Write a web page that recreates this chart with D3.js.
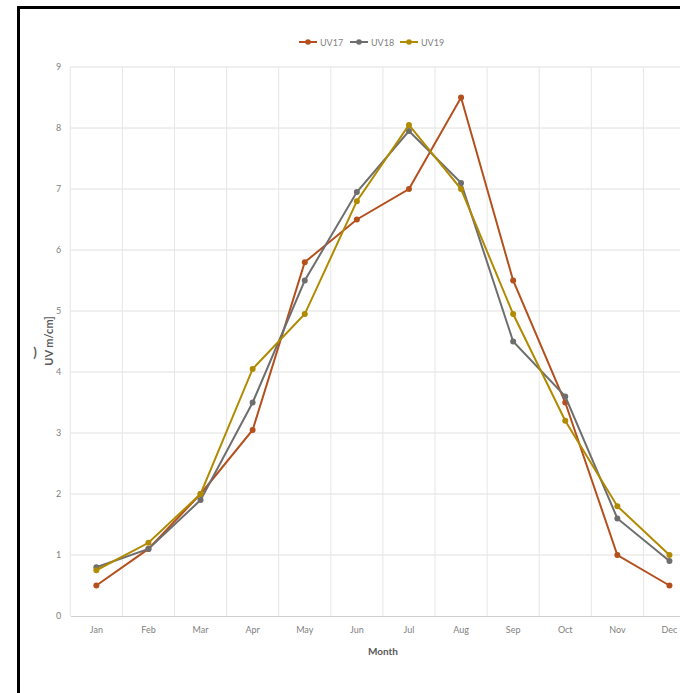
<!DOCTYPE html>
<html>
<head>
<meta charset="utf-8">
<script src="https://cdn.jsdelivr.net/npm/d3@7"></script>
<style>
  html, body { margin: 0; padding: 0; background: #fff; }
  svg { display: block; }
</style>
</head>
<body>
<svg id="chart" width="680" height="693"></svg>
<script>
const months = ["Jan","Feb","Mar","Apr","May","Jun","Jul","Aug","Sep","Oct","Nov","Dec"];
const uv17 = [0.5, 1.1, 2.0, 3.05, 5.8, 6.5, 7.0, 8.5, 5.5, 3.5, 1.0, 0.5];
const uv18 = [0.8, 1.1, 1.9, 3.5, 5.5, 6.95, 7.95, 7.1, 4.5, 3.6, 1.6, 0.9];
const uv19 = [0.75, 1.2, 2.0, 4.05, 4.95, 6.8, 8.05, 7.0, 4.95, 3.2, 1.8, 1.0];
const seriesNames = ["UV17", "UV18", "UV19"];
const seriesColors = ["#B4501E", "#6E6E6E", "#B08A00"];
const yTicks = [0,1,2,3,4,5,6,7,8,9];

const series = [uv17, uv18, uv19].map((v, i) => ({ name: seriesNames[i], color: seriesColors[i], values: v }));

const svg = d3.select("#chart");
const font = "Lato, 'Open Sans', sans-serif";

// frame lines
svg.append("rect").attr("x", 17).attr("y", 6).attr("width", 700).attr("height", 3).attr("fill", "#000");
svg.append("rect").attr("x", 17).attr("y", 6).attr("width", 3).attr("height", 700).attr("fill", "#000");

const pLeft = 70.3, pRight = 695.5, pTop = 67, pBottom = 616;
const x = d3.scaleBand().domain(months).range([pLeft, pRight]);
const y = d3.scaleLinear().domain([0, 9]).range([pBottom, pTop]);

// horizontal gridlines
svg.append("g").selectAll("line").data(yTicks.filter(d => d > 0)).join("line")
  .attr("x1", pLeft).attr("x2", pRight)
  .attr("y1", d => y(d)).attr("y2", d => y(d))
  .attr("stroke", "#e0e0e0").attr("stroke-width", 1);

// vertical gridlines (category boundaries)
svg.append("g").selectAll("line").data(months).join("line")
  .attr("x1", d => x(d)).attr("x2", d => x(d))
  .attr("y1", pTop).attr("y2", pBottom)
  .attr("stroke", "#e6e6e6").attr("stroke-width", 1);

// x axis
const xAxis = svg.append("g").attr("transform", `translate(0,${pBottom})`)
  .call(d3.axisBottom(x).tickSize(0).tickPadding(11));
xAxis.select(".domain").attr("stroke", "#d0d0d0");
xAxis.selectAll("text").attr("fill", "#7f7f7f").style("font-family", font).style("font-size", "9px");

// y axis
const yAxis = svg.append("g").attr("transform", `translate(${pLeft},0)`)
  .call(d3.axisLeft(y).tickValues(yTicks).tickSize(0).tickPadding(9));
yAxis.select(".domain").remove();
yAxis.selectAll("text").attr("fill", "#7f7f7f").style("font-family", font).style("font-size", "9px");

// axis titles
svg.append("text").attr("x", 383).attr("y", 655)
  .attr("text-anchor", "middle").attr("fill", "#595959")
  .style("font-family", font).style("font-size", "10px").style("font-weight", "bold")
  .text("Month");
svg.append("text").attr("transform", "translate(53,341) rotate(-90)")
  .attr("text-anchor", "middle").attr("fill", "#595959")
  .style("font-family", font).style("font-size", "11px").style("font-weight", "bold")
  .text("UV m/cm]");
svg.append("text").attr("x", 35).attr("y", 357)
  .attr("text-anchor", "middle").attr("fill", "#595959")
  .style("font-family", font).style("font-size", "13px").style("font-weight", "bold")
  .text(")");

// lines
const line = d3.line().x((d, i) => x(months[i]) + x.bandwidth() / 2).y(d => y(d));
const g = svg.append("g");
series.forEach(s => {
  g.append("path").datum(s.values).attr("d", line)
    .attr("fill", "none").attr("stroke", s.color).attr("stroke-width", 2);
  g.append("g").selectAll("circle").data(s.values).join("circle")
    .attr("cx", (d, i) => x(months[i]) + x.bandwidth() / 2)
    .attr("cy", d => y(d)).attr("r", 3).attr("fill", s.color);
});

// legend
const legendX = [299, 350, 400];
const lg = svg.append("g");
series.forEach((s, i) => {
  const gx = legendX[i];
  lg.append("line").attr("x1", gx).attr("x2", gx + 18).attr("y1", 42).attr("y2", 42)
    .attr("stroke", s.color).attr("stroke-width", 2);
  lg.append("circle").attr("cx", gx + 9).attr("cy", 42).attr("r", 2.8).attr("fill", s.color);
  lg.append("text").attr("x", gx + 21).attr("y", 45.5).attr("fill", "#7f7f7f")
    .style("font-family", font).style("font-size", "9px").text(s.name);
});
</script>
</body>
</html>
